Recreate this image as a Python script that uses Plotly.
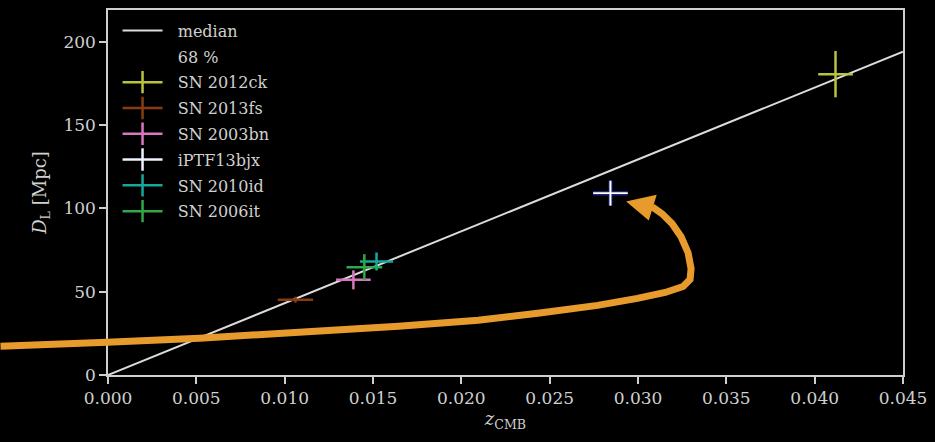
import plotly.graph_objects as go

# ---- data ----
names = ["SN 2012ck", "SN 2013fs", "SN 2003bn", "iPTF13bjx", "SN 2010id", "SN 2006it"]
colors = ["#b9c33e", "#8a3b12", "#d877c0", "#1c237a", "#17a89a", "#2ea84a"]
z_cmb = [0.04118, 0.01061, 0.01389, 0.02844, 0.01520, 0.01451]
dl = [180.5, 45.2, 57.1, 109.1, 68.1, 64.7]
z_err = [0.00098, 0.00100, 0.00098, 0.00098, 0.00094, 0.00101]
dl_err = [13.9, 1.8, 5.7, 7.5, 5.4, 7.8]

z_med = [0.0, 0.045]
dl_med = [0.0, 194.0]

x_ticks = [0.000, 0.005, 0.010, 0.015, 0.020, 0.025, 0.030, 0.035, 0.040, 0.045]
y_ticks = [0, 50, 100, 150, 200]

FONT = "DejaVu Serif"
TXT = "#d0d0d0"
PAD = "\u00a0\u00a0"

fig = go.Figure()

# median line
fig.add_trace(go.Scatter(x=z_med, y=dl_med, mode="lines", name=PAD + "median", legendgroup="g0",
                         line=dict(color="#dcdcdc", width=2)))
# 68% band (no visible symbol)
fig.add_trace(go.Scatter(x=[None], y=[None], mode="lines", name=PAD + "68 %", legendgroup="g1",
                         line=dict(color="rgba(0,0,0,0)", width=0),
                         fill="toself", fillcolor="rgba(0,0,0,0)"))

for i, n in enumerate(names):
    c = colors[i]
    g = f"sn{i}"
    if n == "iPTF13bjx":
        fig.add_trace(go.Scatter(
            x=[z_cmb[i]], y=[dl[i]], mode="markers", showlegend=False, legendgroup=g,
            marker=dict(size=1, color="rgba(0,0,0,0)"),
            error_x=dict(type="data", array=[z_err[i]], color=c, thickness=4.5, width=0),
            error_y=dict(type="data", array=[dl_err[i]], color=c, thickness=4, width=0)))
        fig.add_trace(go.Scatter(
            x=[z_cmb[i]], y=[dl[i]], mode="markers", showlegend=False, legendgroup=g,
            marker=dict(size=1, color="rgba(0,0,0,0)"),
            error_x=dict(type="data", array=[z_err[i]], color="#ffffff", thickness=1.8, width=0),
            error_y=dict(type="data", array=[dl_err[i]], color="#ffffff", thickness=2, width=0)))
        lc = "#f0f0ff"
    else:
        fig.add_trace(go.Scatter(
            x=[z_cmb[i]], y=[dl[i]], mode="markers", showlegend=False, legendgroup=g,
            marker=dict(size=1, color="rgba(0,0,0,0)"),
            error_x=dict(type="data", array=[z_err[i]], color=c, thickness=2.5, width=0),
            error_y=dict(type="data", array=[dl_err[i]], color=c, thickness=2.5, width=0)))
        lc = c
    # legend entry (cross symbol)
    fig.add_trace(go.Scatter(
        x=[None], y=[None], mode="lines+markers", name=PAD + n, legendgroup=g,
        line=dict(color=lc, width=2.5),
        marker=dict(symbol="line-ns", size=19, line=dict(color=lc, width=2.5))))

# ---- hand-drawn orange arrow (annotation overlay, in pixel coords) ----
L, R, T, B = 108, 907, 8, 375
W, H = R - L, B - T
arrow_px = [(0, 346), (107, 342), (200, 338), (300, 332), (400, 326), (480, 320),
            (540, 313), (600, 305), (640, 298), (668, 292), (686, 286), (693, 279),
            (694, 268), (691, 252), (684, 236), (675, 223), (665, 213), (655, 206)]
head_px = [(631, 201), (658, 195), (651, 218)]


def to_paper(p):
    return ((p[0] - L) / W, (B - p[1]) / H)


pts = [to_paper(p) for p in arrow_px]
path = "M " + " L ".join(f"{x:.5f},{y:.5f}" for x, y in pts)
hp = [to_paper(p) for p in head_px]
head = "M " + " L ".join(f"{x:.5f},{y:.5f}" for x, y in hp) + " Z"

fig.add_shape(type="path", xref="paper", yref="paper", path=path,
              line=dict(color="#e79b2c", width=7), layer="above")
fig.add_shape(type="path", xref="paper", yref="paper", path=head,
              line=dict(color="#e79b2c", width=2), fillcolor="#e79b2c", layer="above")

axis_common = dict(showgrid=False, zeroline=False, showline=True, linecolor="#cfcfcf",
                   linewidth=1.5, mirror=True, ticks="outside", ticklen=7,
                   tickwidth=1.5, tickcolor="#cfcfcf",
                   tickfont=dict(family=FONT, size=17, color=TXT))

fig.update_layout(
    width=935, height=442,
    paper_bgcolor="#000000", plot_bgcolor="#000000",
    margin=dict(l=L, r=935 - R, t=T, b=442 - B),
    font=dict(family=FONT, color=TXT),
    xaxis=dict(range=[0, 0.045], tickvals=x_ticks,
               ticktext=[f"{v:.3f}" for v in x_ticks],
               title=dict(text="<i>z</i><sub>CMB</sub>", font=dict(family=FONT, size=18, color=TXT),
                          standoff=4),
               **axis_common),
    yaxis=dict(range=[0, 219], tickvals=y_ticks,
               ticktext=[str(v) for v in y_ticks],
               title=dict(text="<i>D</i><sub>L</sub> [Mpc]", font=dict(family=FONT, size=18, color=TXT),
                          standoff=12),
               **axis_common),
    legend=dict(x=0.012, y=0.99, xanchor="left", yanchor="top",
                bgcolor="rgba(0,0,0,0)", font=dict(family=FONT, size=16, color=TXT),
                itemwidth=40, tracegroupgap=2),
    showlegend=True,
)

fig.write_html("out.html", config={"displayModeBar": False},
               post_script="document.body.style.margin='0';document.body.style.background='#000';")
